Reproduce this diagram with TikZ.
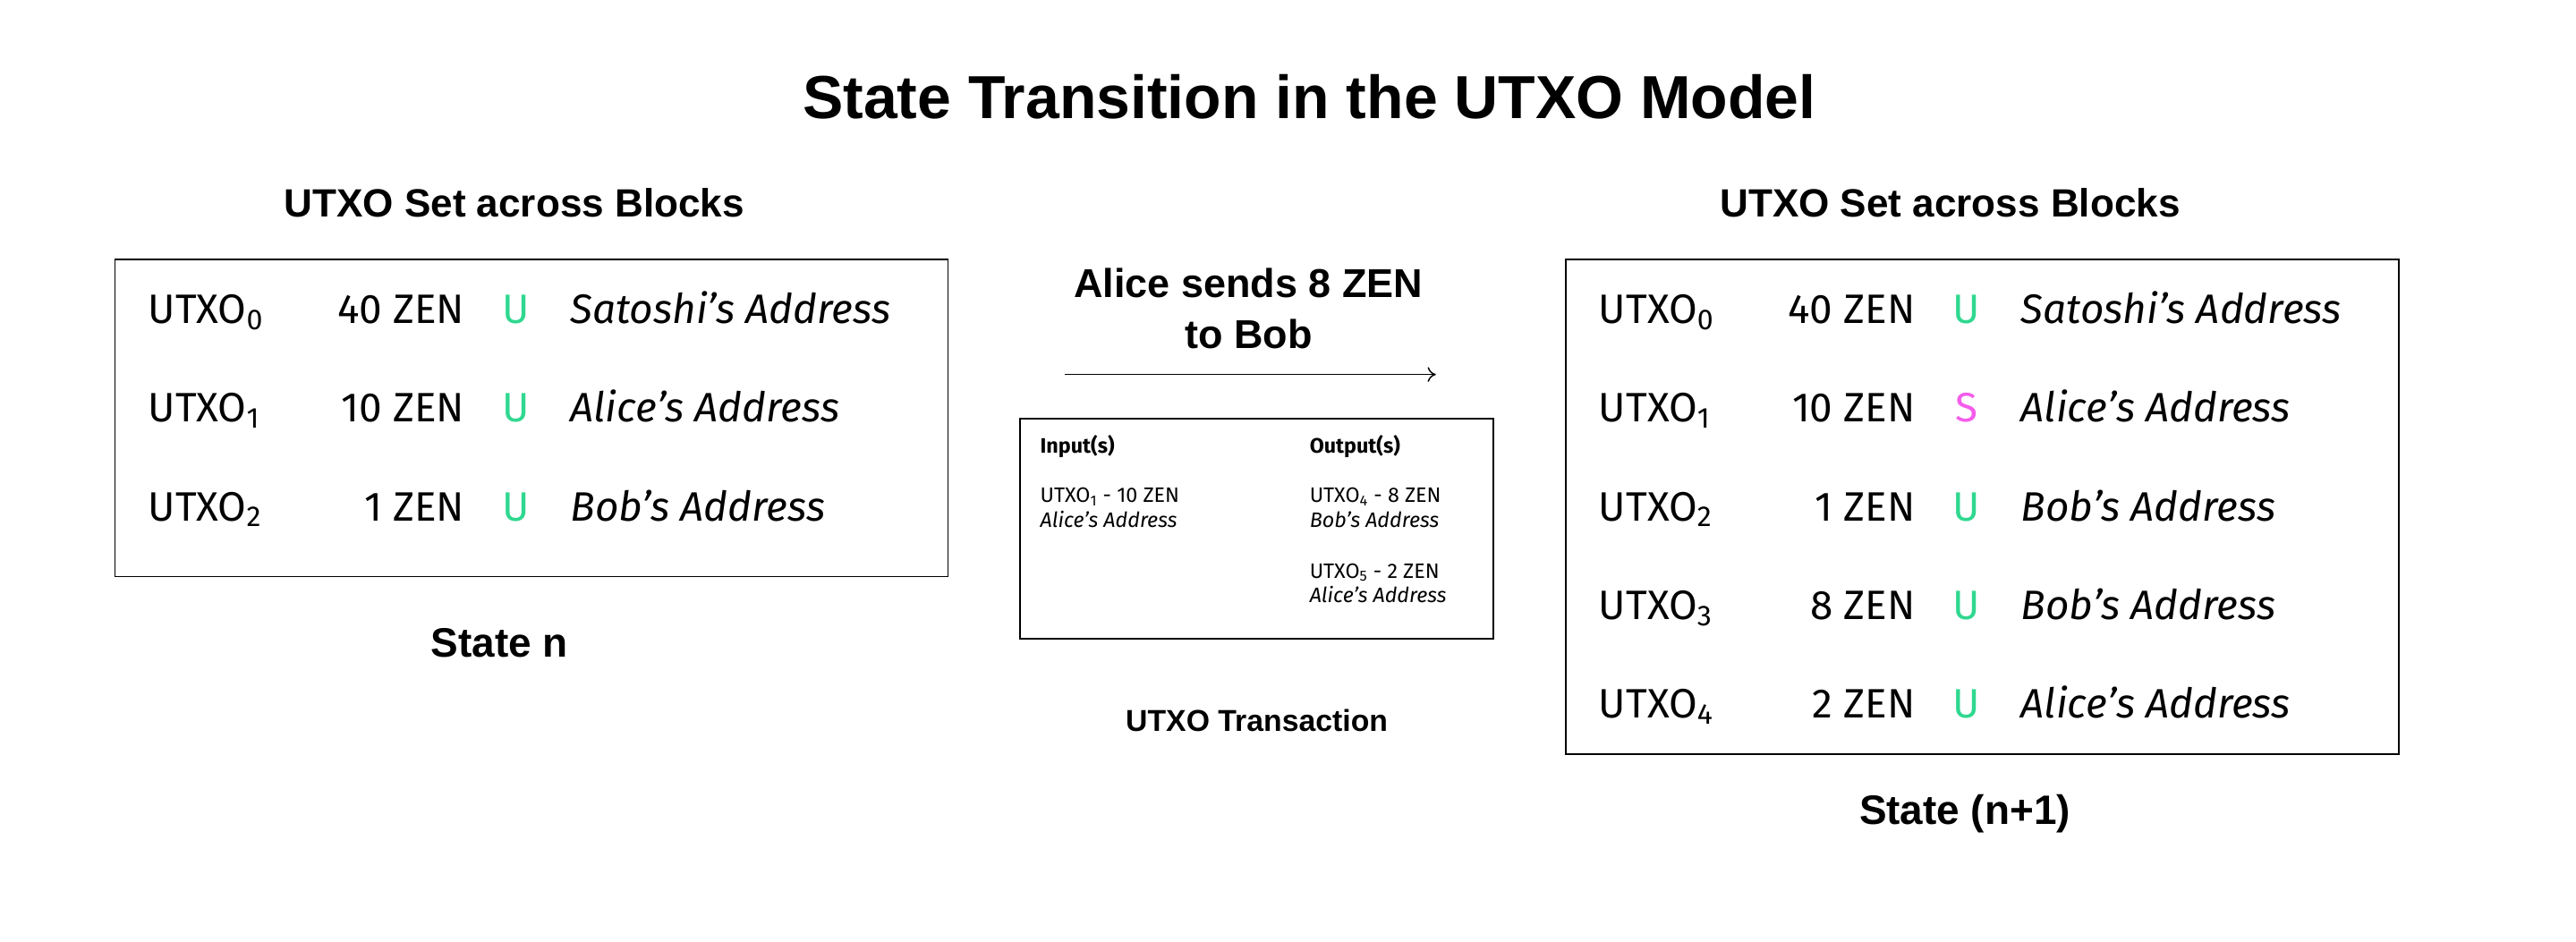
\documentclass[tikz,border=0pt]{standalone}
\usepackage{fontspec}
\setmainfont{Fira Sans}
\newfontfamily\headfont{Liberation Sans}
\usetikzlibrary{arrows.meta}

\definecolor{unspent}{HTML}{2FD88F}
\definecolor{spent}{HTML}{F55CEB}
\newcommand{\utxo}[1]{UTXO\textsubscript{#1}}

\tikzset{
	title/.style={font=\headfont\bfseries\fontsize{37}{40}\selectfont, anchor=base},
	heading/.style={font=\headfont\bfseries\fontsize{24}{26}\selectfont, anchor=base},
	caption/.style={font=\headfont\bfseries\fontsize{25}{27}\selectfont, anchor=base},
	cell/.style={font=\fontsize{25}{27}\selectfont, inner sep=0pt},
	addr/.style={cell, font=\fontsize{25}{27}\selectfont\itshape, anchor=base west},
	flagU/.style={cell, text=unspent, anchor=base},
	flagS/.style={cell, text=spent, anchor=base},
	txt/.style={font=\fontsize{12.7}{14}\selectfont, inner sep=0pt, anchor=base west},
	frame/.style={draw, line width=1pt, inner sep=0pt},
}

\begin{document}
\begin{tikzpicture}[x=1pt, y=-1pt]

	\useasboundingbox (0,0) rectangle (1568,573);

	\node[title] (ttl) at (797,72) {State Transition in the UTXO Model};

	% state n
	\node[heading] (headL) at (313,132) {UTXO Set across Blocks};
	\node[frame, minimum width=507pt, minimum height=193pt] (boxL) at (323.5,254.5) {};

	\node[cell, anchor=base west] (l0id) at (90,197) {\utxo{0}};
	\node[cell, anchor=base east] (l0amt) at (283,197) {40 ZEN};
	\node[flagU] (l0flag) at (314,197) {U};
	\node[addr] (l0addr) at (347,197) {Satoshi’s Address};

	\node[cell, anchor=base west] (l1id) at (90,257) {\utxo{1}};
	\node[cell, anchor=base east] (l1amt) at (283,257) {10 ZEN};
	\node[flagU] (l1flag) at (314,257) {U};
	\node[addr] (l1addr) at (347,257) {Alice’s Address};

	\node[cell, anchor=base west] (l2id) at (90,317) {\utxo{2}};
	\node[cell, anchor=base east] (l2amt) at (283,317) {1 ZEN};
	\node[flagU] (l2flag) at (314,317) {U};
	\node[addr] (l2addr) at (347,317) {Bob’s Address};

	\node[caption] (capL) at (304,400) {State n};

	% transaction
	\node[font=\headfont\bfseries\fontsize{24.5}{31}\selectfont, align=center, anchor=base] (send) at (760,212) {Alice sends 8 ZEN\\to Bob};
	\coordinate (arrL) at (648,228);
	\coordinate (arrR) at (874,228);
	\draw[-{To[length=5pt, width=9pt]}, line width=0.8pt] (arrL) -- (arrR);

	\node[frame, minimum width=288pt, minimum height=134pt] (txbox) at (765,322) {};
	\node[txt, font=\fontsize{12.7}{14}\selectfont\bfseries] (inHd) at (633,276) {Input(s)};
	\node[txt, font=\fontsize{12.7}{14}\selectfont\bfseries] (outHd) at (797,276) {Output(s)};
	\node[txt] (in1) at (633,306) {\utxo{1} - 10 ZEN};
	\node[txt, font=\fontsize{12.7}{14}\selectfont\itshape] (in1a) at (633,321) {Alice’s Address};
	\node[txt] (out1) at (797,306) {\utxo{4} - 8 ZEN};
	\node[txt, font=\fontsize{12.7}{14}\selectfont\itshape] (out1a) at (797,321) {Bob’s Address};
	\node[txt] (out2) at (797,352) {\utxo{5} - 2 ZEN};
	\node[txt, font=\fontsize{12.7}{14}\selectfont\itshape] (out2a) at (797,367) {Alice’s Address};

	\node[font=\headfont\bfseries\fontsize{18.4}{20}\selectfont, anchor=base] (capT) at (765,445) {UTXO Transaction};

	% state n+1
	\node[heading] (headR) at (1187,132) {UTXO Set across Blocks};
	\node[frame, minimum width=507pt, minimum height=301pt] (boxR) at (1206.5,308.5) {};

	\node[cell, anchor=base west] (r0id) at (973,197) {\utxo{0}};
	\node[cell, anchor=base east] (r0amt) at (1166,197) {40 ZEN};
	\node[flagU] (r0flag) at (1197,197) {U};
	\node[addr] (r0addr) at (1230,197) {Satoshi’s Address};

	\node[cell, anchor=base west] (r1id) at (973,257) {\utxo{1}};
	\node[cell, anchor=base east] (r1amt) at (1166,257) {10 ZEN};
	\node[flagS] (r1flag) at (1197,257) {S};
	\node[addr] (r1addr) at (1230,257) {Alice’s Address};

	\node[cell, anchor=base west] (r2id) at (973,317) {\utxo{2}};
	\node[cell, anchor=base east] (r2amt) at (1166,317) {1 ZEN};
	\node[flagU] (r2flag) at (1197,317) {U};
	\node[addr] (r2addr) at (1230,317) {Bob’s Address};

	\node[cell, anchor=base west] (r3id) at (973,377) {\utxo{3}};
	\node[cell, anchor=base east] (r3amt) at (1166,377) {8 ZEN};
	\node[flagU] (r3flag) at (1197,377) {U};
	\node[addr] (r3addr) at (1230,377) {Bob’s Address};

	\node[cell, anchor=base west] (r4id) at (973,437) {\utxo{4}};
	\node[cell, anchor=base east] (r4amt) at (1166,437) {2 ZEN};
	\node[flagU] (r4flag) at (1197,437) {U};
	\node[addr] (r4addr) at (1230,437) {Alice’s Address};

	\node[caption] (capR) at (1196,502) {State (n+1)};

\end{tikzpicture}
\end{document}
